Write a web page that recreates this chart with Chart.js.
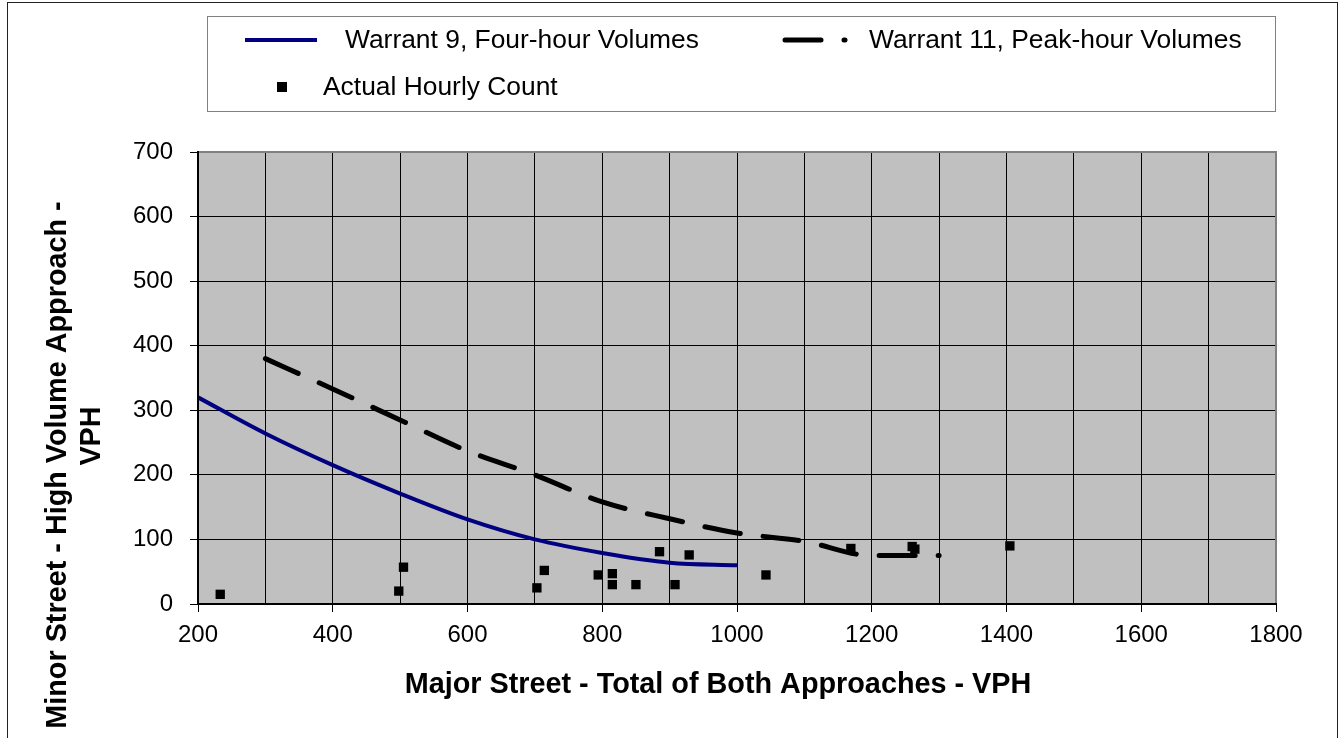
<!DOCTYPE html>
<html>
<head>
<meta charset="utf-8">
<script src="https://cdn.jsdelivr.net/npm/chart.js@4.4.1/dist/chart.umd.min.js"></script>
<style>
  html, body { margin: 0; padding: 0; background: #ffffff; }
  #wrap { width: 1340px; height: 738px; position: relative; }
  canvas { display: block; }
</style>
</head>
<body>
<div id="wrap"><canvas id="c" width="1340" height="738"></canvas></div>
<script>
// ---- Data ----
const warrant9X = [200, 300, 400, 500, 600, 700, 800, 900, 1000];
const warrant9Y = [320, 264, 215, 171, 131, 100, 79, 64, 60];

const warrant11X = [300, 400, 500, 600, 700, 800, 900, 1000, 1100, 1200, 1300];
const warrant11Y = [380, 333, 285, 237, 200, 158, 132, 110, 97, 75, 75];

const countX = [233, 498, 505, 703, 714, 794, 815, 815, 850, 885, 908, 929, 1043, 1169, 1260, 1264, 1405];
const countY = [15, 20, 57, 25, 52, 45, 47, 30, 30, 81, 30, 76, 45, 86, 89, 85, 90];

const seriesLabels = ['Warrant 9, Four-hour Volumes', 'Warrant 11, Peak-hour Volumes', 'Actual Hourly Count'];
const xTitle = 'Major Street - Total of Both Approaches - VPH';
const yTitleLines = ['Minor Street - High Volume Approach -', 'VPH'];

const FONT = "'Liberation Sans', Arial, Helvetica, sans-serif";

function pts(xs, ys) { return xs.map((x, i) => ({ x: x, y: ys[i] })); }

// ---- plugins: backgrounds, frame, legend, titles ----
const decor = {
  id: 'decor',
  beforeDraw(chart) {
    const ctx = chart.ctx, a = chart.chartArea;
    ctx.save();
    ctx.fillStyle = '#ffffff';
    ctx.fillRect(0, 0, chart.width, chart.height);
    ctx.strokeStyle = '#222222';
    ctx.lineWidth = 1;
    ctx.strokeRect(7.5, 2.5, 1330, 800);
    ctx.fillStyle = '#C0C0C0';
    ctx.fillRect(a.left, a.top, a.right - a.left, a.bottom - a.top);
    ctx.restore();
  },
  beforeDatasetsDraw(chart) {
    const ctx = chart.ctx, a = chart.chartArea;
    ctx.save();
    ctx.strokeStyle = '#808080';
    ctx.lineWidth = 2;
    ctx.strokeRect(a.left, a.top, a.right - a.left, a.bottom - a.top);
    ctx.restore();
  },
  afterDraw(chart) {
    const ctx = chart.ctx;
    const ds = chart.data.datasets;
    ctx.save();
    // legend box
    ctx.fillStyle = '#ffffff';
    ctx.fillRect(207, 16, 1068, 95);
    ctx.strokeStyle = '#808080';
    ctx.lineWidth = 1;
    ctx.strokeRect(207.5, 16.5, 1068, 95);

    ctx.font = '26.4px ' + FONT;
    ctx.fillStyle = '#000';
    ctx.textBaseline = 'middle';
    ctx.textAlign = 'left';

    // item 1 : solid line
    ctx.strokeStyle = ds[0].borderColor;
    ctx.lineWidth = ds[0].borderWidth;
    ctx.lineCap = 'butt';
    ctx.beginPath(); ctx.moveTo(245, 40); ctx.lineTo(317, 40); ctx.stroke();
    ctx.fillText(ds[0].label, 345, 41);

    // item 2 : dashed line
    ctx.strokeStyle = ds[1].borderColor;
    ctx.lineWidth = ds[1].borderWidth;
    ctx.lineCap = 'round';
    ctx.setLineDash(ds[1].borderDash);
    ctx.beginPath(); ctx.moveTo(785, 40); ctx.lineTo(845, 40); ctx.stroke();
    ctx.setLineDash([]);
    ctx.fillText(ds[1].label, 869, 41);

    // item 3 : square marker
    ctx.fillStyle = ds[2].backgroundColor;
    ctx.fillRect(277, 82, 10, 10);
    ctx.fillStyle = '#000';
    ctx.fillText(ds[2].label, 323, 88);

    // axis titles
    ctx.font = 'bold 28.8px ' + FONT;
    ctx.textAlign = 'center';
    ctx.fillText(xTitle, 718, 685);

    ctx.save();
    ctx.translate(58, 465);
    ctx.rotate(-Math.PI / 2);
    ctx.fillText(yTitleLines[0], 0, 0);
    ctx.restore();
    ctx.save();
    ctx.translate(92, 436);
    ctx.rotate(-Math.PI / 2);
    ctx.fillText(yTitleLines[1], 0, 0);
    ctx.restore();

    ctx.restore();
  }
};

new Chart(document.getElementById('c'), {
  type: 'scatter',
  data: {
    datasets: [
      {
        label: seriesLabels[0],
        data: pts(warrant9X, warrant9Y),
        showLine: true,
        borderColor: '#000080',
        backgroundColor: '#000080',
        borderWidth: 4,
        pointRadius: 0,
        cubicInterpolationMode: 'monotone',
        fill: false
      },
      {
        label: seriesLabels[1],
        data: pts(warrant11X, warrant11Y),
        showLine: true,
        borderColor: '#000000',
        backgroundColor: '#000000',
        borderWidth: 5,
        borderDash: [36, 23],
        borderCapStyle: 'round',
        pointRadius: 0,
        cubicInterpolationMode: 'monotone',
        fill: false
      },
      {
        label: seriesLabels[2],
        data: pts(countX, countY),
        showLine: false,
        pointStyle: 'rect',
        pointRadius: 6.6,
        pointBorderWidth: 0,
        backgroundColor: '#000000',
        borderColor: '#000000'
      }
    ]
  },
  options: {
    responsive: false,
    animation: false,
    devicePixelRatio: 1,
    layout: { padding: { left: 0, top: 152, right: 64, bottom: 0 } },
    plugins: { legend: { display: false }, tooltip: { enabled: false } },
    scales: {
      x: {
        type: 'linear',
        min: 200, max: 1800,
        afterFit: (s) => { s.height = 134; },
        ticks: {
          stepSize: 100, autoSkip: false, maxRotation: 0,
          padding: 9, color: '#000',
          font: { family: FONT, size: 24 },
          callback: (v) => (v % 200 === 0 ? String(v) : '')
        },
        grid: {
          color: '#000', lineWidth: 1, tickLength: 8,
          tickColor: (c) => (c.tick && c.tick.value % 200 === 0 ? '#000' : 'rgba(0,0,0,0)')
        },
        border: { color: '#000', width: 2, z: 1 }
      },
      y: {
        type: 'linear',
        min: 0, max: 700,
        afterFit: (s) => { s.width = 198; },
        ticks: {
          stepSize: 100, padding: 17, color: '#000',
          font: { family: FONT, size: 24 }
        },
        grid: { color: '#000', lineWidth: 1, tickLength: 8, tickColor: '#000' },
        border: { color: '#000', width: 2, z: 1 }
      }
    }
  },
  plugins: [decor]
});
</script>
</body>
</html>
